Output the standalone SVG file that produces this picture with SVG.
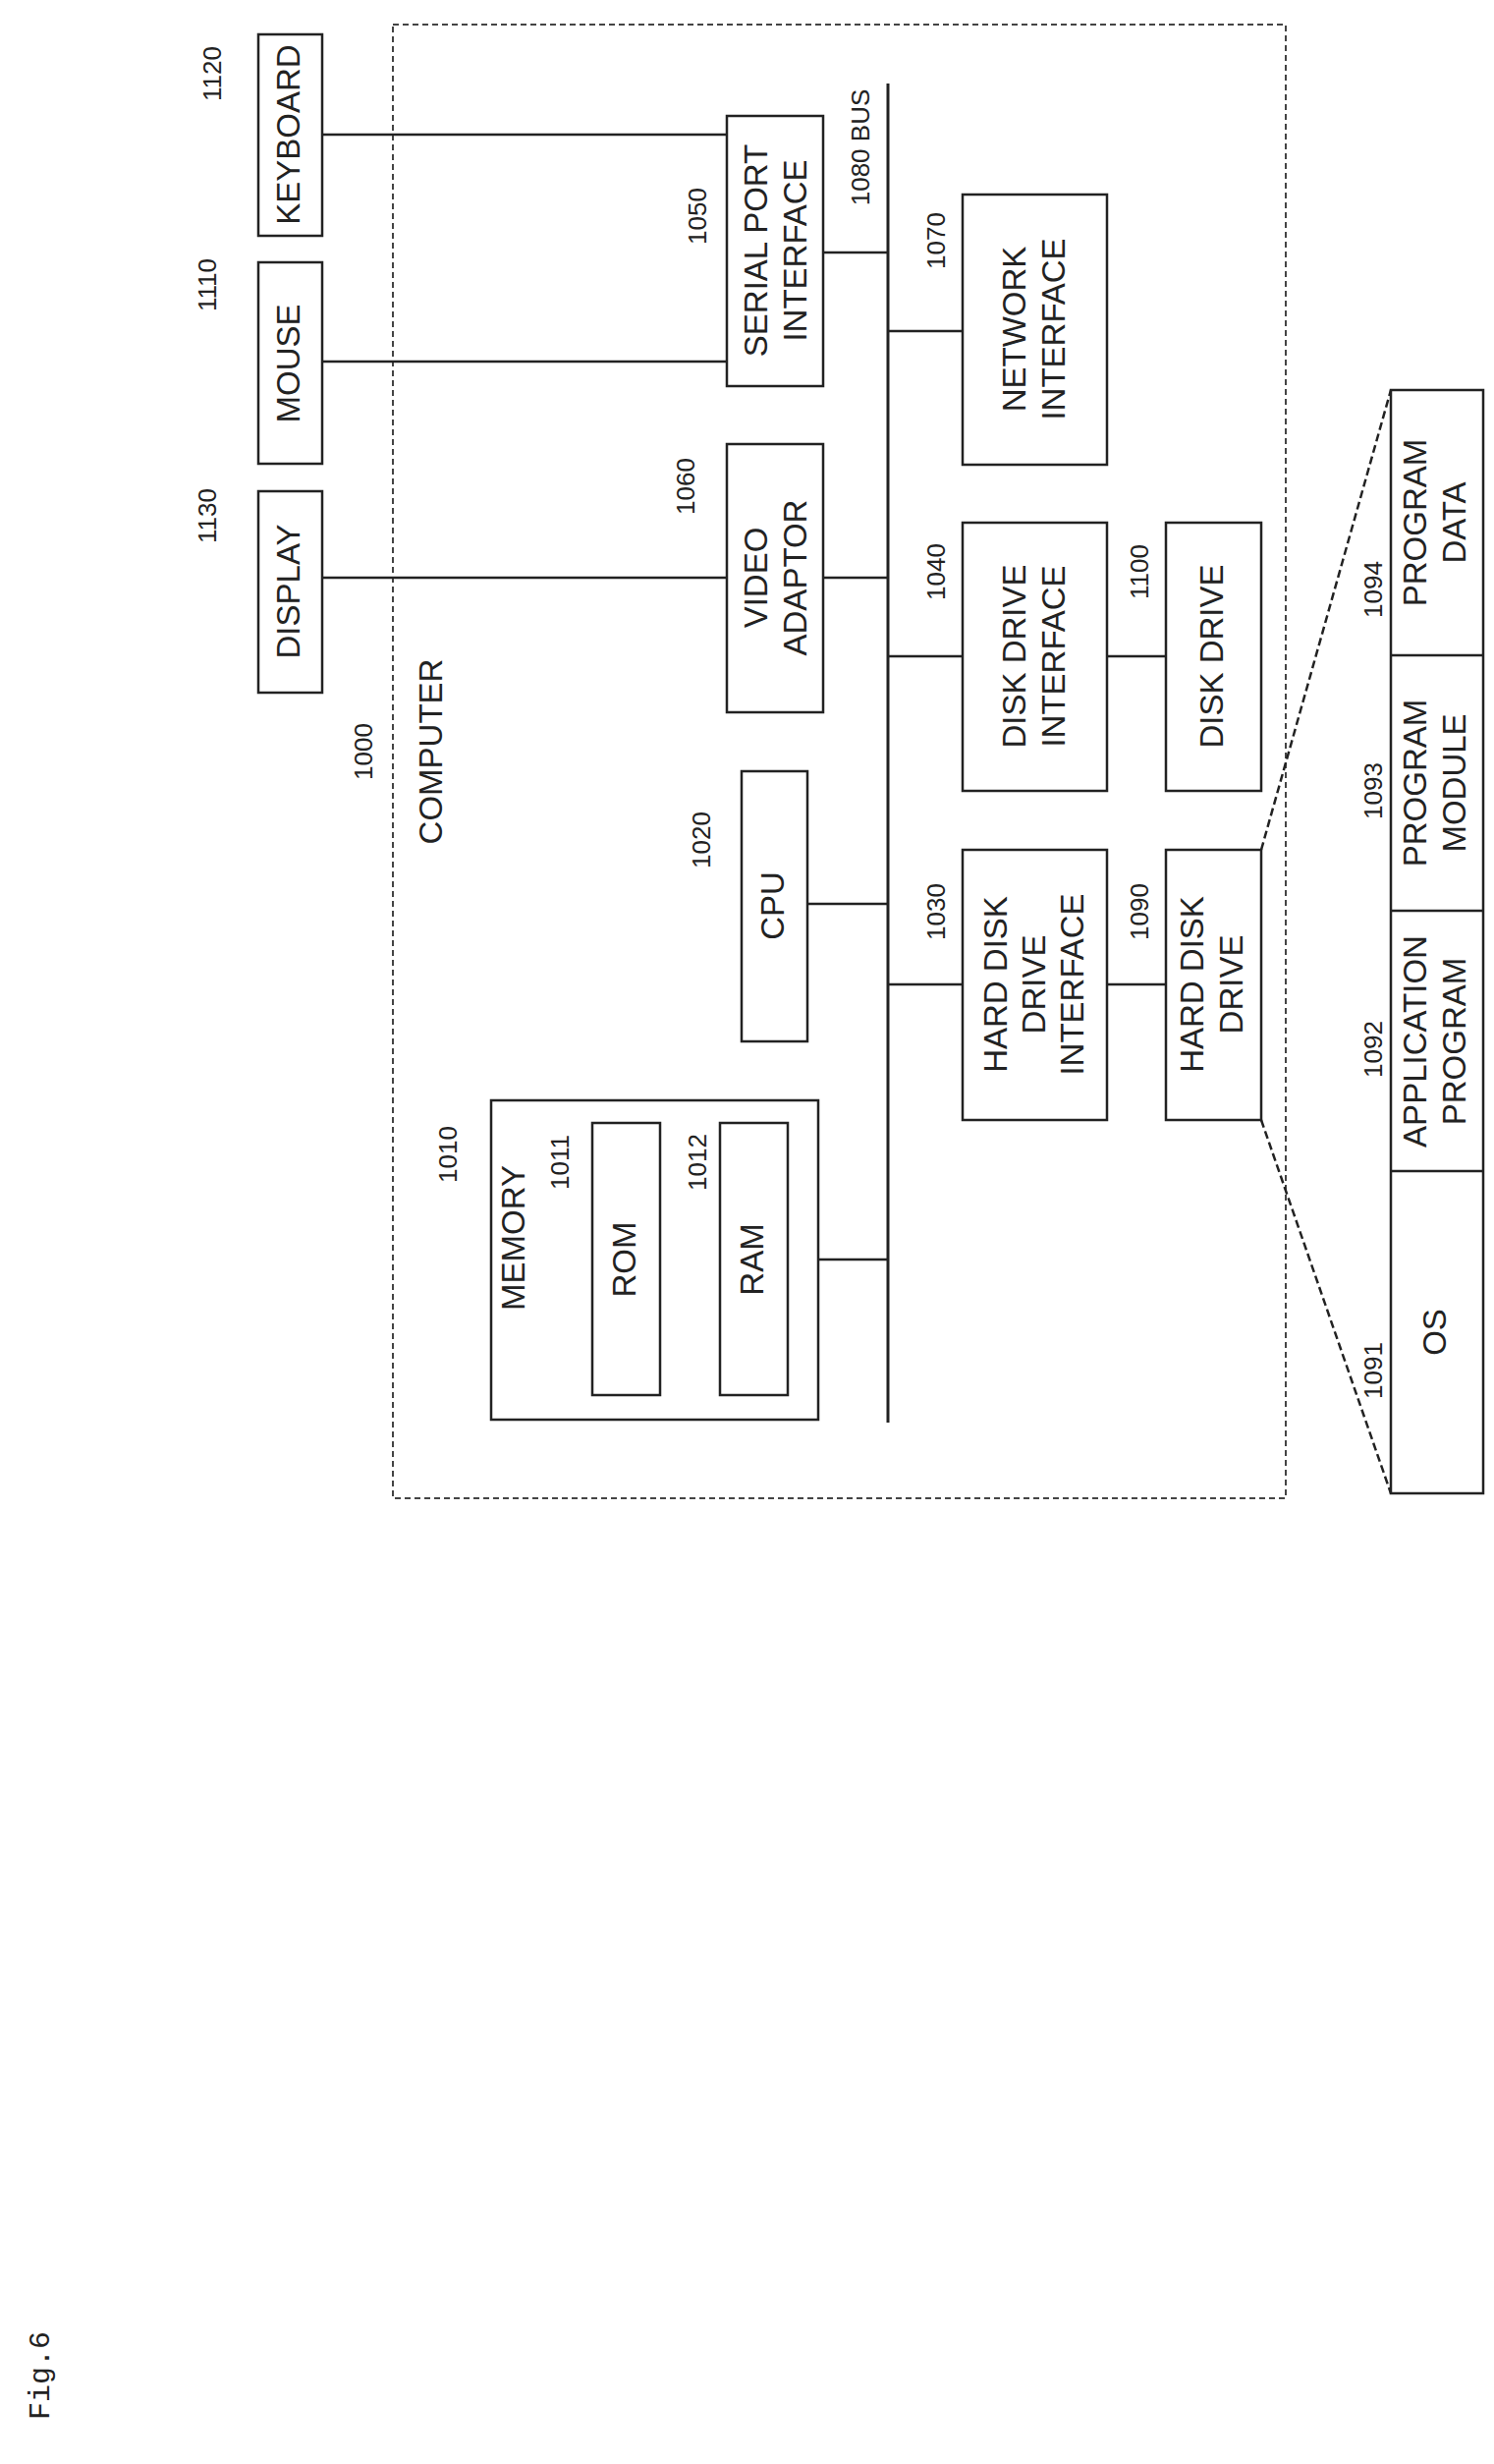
<svg xmlns="http://www.w3.org/2000/svg" width="1521" height="2508" viewBox="0 0 1521 2508">
<style>
.b{fill:none;stroke:#222;stroke-width:2.5}
.t{font-family:"Liberation Sans",Arial,sans-serif;font-size:33px;fill:#222;text-anchor:middle;dominant-baseline:middle}
.n{font-family:"Liberation Sans",Arial,sans-serif;font-size:26px;fill:#222;text-anchor:middle;dominant-baseline:middle}
.c line,.c path{stroke:#222;stroke-width:2.5;fill:none}
</style>
<rect width="1521" height="2508" fill="#fff"/>
<g id="computer"><rect x="400" y="25" width="909" height="1500" fill="none" stroke="#444" stroke-width="2" stroke-dasharray="6 4"/>
<text class="n" transform="translate(372,765) rotate(-90)">1000</text>
<text class="t" transform="translate(441,765) rotate(-90)">COMPUTER</text></g>
<g id="keyboard"><rect class="b" x="263" y="35" width="65" height="205"/><text class="t" transform="translate(296,137) rotate(-90)">KEYBOARD</text><text class="n" transform="translate(218,75) rotate(-90)">1120</text></g>
<g id="mouse"><rect class="b" x="263" y="267" width="65" height="205"/><text class="t" transform="translate(296,370) rotate(-90)">MOUSE</text><text class="n" transform="translate(213,290) rotate(-90)">1110</text></g>
<g id="display"><rect class="b" x="263" y="500" width="65" height="205"/><text class="t" transform="translate(296,602) rotate(-90)">DISPLAY</text><text class="n" transform="translate(213,525) rotate(-90)">1130</text></g>
<g id="serial"><rect class="b" x="740" y="118" width="98" height="275"/><text class="t" transform="translate(772,255) rotate(-90)">SERIAL PORT</text><text class="t" transform="translate(812,255) rotate(-90)">INTERFACE</text><text class="n" transform="translate(712,220) rotate(-90)">1050</text></g>
<g id="video"><rect class="b" x="740" y="452" width="98" height="273"/><text class="t" transform="translate(772,588) rotate(-90)">VIDEO</text><text class="t" transform="translate(812,588) rotate(-90)">ADAPTOR</text><text class="n" transform="translate(700,495) rotate(-90)">1060</text></g>
<g id="cpu"><rect class="b" x="755" y="785" width="67" height="275"/><text class="t" transform="translate(789,922) rotate(-90)">CPU</text><text class="n" transform="translate(716,855) rotate(-90)">1020</text></g>
<g id="memory"><rect class="b" x="500" y="1120" width="333" height="325"/><text class="t" transform="translate(525,1260) rotate(-90)">MEMORY</text><text class="n" transform="translate(458,1175) rotate(-90)">1010</text>
<rect class="b" x="603" y="1143" width="69" height="277"/><text class="t" transform="translate(638,1282) rotate(-90)">ROM</text><text class="n" transform="translate(572,1183) rotate(-90)">1011</text>
<rect class="b" x="733" y="1143" width="69" height="277"/><text class="t" transform="translate(768,1282) rotate(-90)">RAM</text><text class="n" transform="translate(712,1183) rotate(-90)">1012</text></g>
<g id="bus"><line x1="904" y1="85" x2="904" y2="1448" stroke="#222" stroke-width="3"/><text class="n" transform="translate(878,150) rotate(-90)">1080 BUS</text></g>
<g id="network"><rect class="b" x="980" y="198" width="147" height="275"/><text class="t" transform="translate(1035,335) rotate(-90)">NETWORK</text><text class="t" transform="translate(1075,335) rotate(-90)">INTERFACE</text><text class="n" transform="translate(955,245) rotate(-90)">1070</text></g>
<g id="ddi"><rect class="b" x="980" y="532" width="147" height="273"/><text class="t" transform="translate(1035,668) rotate(-90)">DISK DRIVE</text><text class="t" transform="translate(1075,668) rotate(-90)">INTERFACE</text><text class="n" transform="translate(955,582) rotate(-90)">1040</text></g>
<g id="hddi"><rect class="b" x="980" y="865" width="147" height="275"/><text class="t" transform="translate(1016,1002) rotate(-90)">HARD DISK</text><text class="t" transform="translate(1055,1002) rotate(-90)">DRIVE</text><text class="t" transform="translate(1094,1002) rotate(-90)">INTERFACE</text><text class="n" transform="translate(955,928) rotate(-90)">1030</text></g>
<g id="diskdrive"><rect class="b" x="1187" y="532" width="97" height="273"/><text class="t" transform="translate(1236,668) rotate(-90)">DISK DRIVE</text><text class="n" transform="translate(1162,582) rotate(-90)">1100</text></g>
<g id="hdd"><rect class="b" x="1187" y="865" width="97" height="275"/><text class="t" transform="translate(1216,1002) rotate(-90)">HARD DISK</text><text class="t" transform="translate(1256,1002) rotate(-90)">DRIVE</text><text class="n" transform="translate(1162,928) rotate(-90)">1090</text></g>
<g id="table"><rect class="b" x="1416" y="397" width="94" height="1123"/>
<line class="b" x1="1416" y1="667" x2="1510" y2="667"/><line class="b" x1="1416" y1="927" x2="1510" y2="927"/><line class="b" x1="1416" y1="1192" x2="1510" y2="1192"/>
<text class="t" transform="translate(1443,532) rotate(-90)">PROGRAM</text><text class="t" transform="translate(1483,532) rotate(-90)">DATA</text>
<text class="t" transform="translate(1443,797) rotate(-90)">PROGRAM</text><text class="t" transform="translate(1483,797) rotate(-90)">MODULE</text>
<text class="t" transform="translate(1443,1060) rotate(-90)">APPLICATION</text><text class="t" transform="translate(1483,1060) rotate(-90)">PROGRAM</text>
<text class="t" transform="translate(1463,1356) rotate(-90)">OS</text>
<text class="n" transform="translate(1400,600) rotate(-90)">1094</text><text class="n" transform="translate(1400,805) rotate(-90)">1093</text><text class="n" transform="translate(1400,1068) rotate(-90)">1092</text><text class="n" transform="translate(1400,1395) rotate(-90)">1091</text></g>
<g id="connectors" class="c">
<line x1="328" y1="137" x2="740" y2="137"/><line x1="328" y1="368" x2="740" y2="368"/><line x1="328" y1="588" x2="740" y2="588"/>
<line x1="838" y1="257" x2="904" y2="257"/><line x1="838" y1="588" x2="904" y2="588"/><line x1="822" y1="920" x2="904" y2="920"/><line x1="833" y1="1282" x2="904" y2="1282"/>
<line x1="904" y1="337" x2="980" y2="337"/><line x1="904" y1="668" x2="980" y2="668"/><line x1="904" y1="1002" x2="980" y2="1002"/>
<line x1="1127" y1="668" x2="1187" y2="668"/><line x1="1127" y1="1002" x2="1187" y2="1002"/>
<line x1="1284" y1="865" x2="1416" y2="397" stroke-dasharray="8 4"/><line x1="1284" y1="1140" x2="1416" y2="1520" stroke-dasharray="8 4"/>
</g>
<text class="n" style="font-family:'Liberation Mono',monospace;font-size:30px" transform="translate(42,2418) rotate(-90)">Fig.6</text>
</svg>
